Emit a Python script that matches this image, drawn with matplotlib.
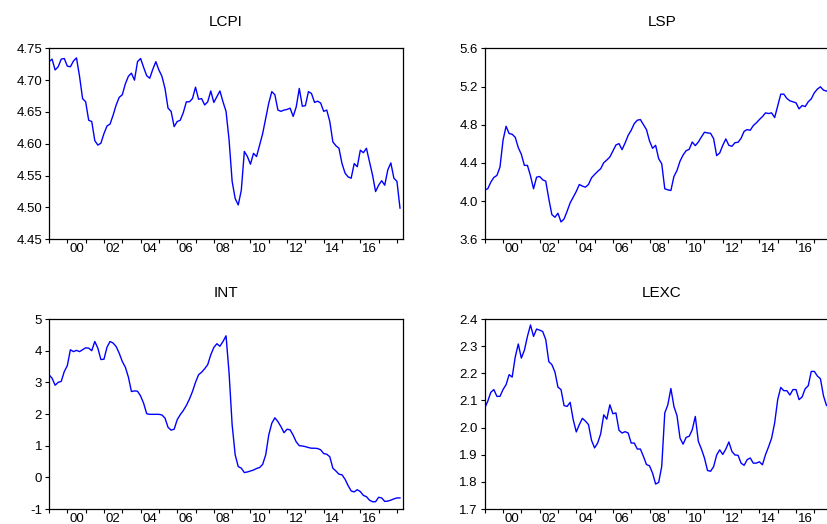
import numpy as np
import matplotlib
matplotlib.use("Agg")
import matplotlib.pyplot as plt

plt.rcParams['font.family'] = ['Liberation Sans', 'DejaVu Sans']

# bimonthly observations, 1999M01 .. 2018M03
start_year = 1999
step_months = 2

lcpi = [4.729, 4.733, 4.716, 4.721, 4.733, 4.734, 4.722, 4.721, 4.730, 4.735,
        4.706, 4.671, 4.666, 4.637, 4.635, 4.605, 4.598, 4.601, 4.616, 4.628,
        4.631, 4.645, 4.661, 4.673, 4.677, 4.694, 4.706, 4.711, 4.700, 4.729,
        4.734, 4.720, 4.707, 4.703, 4.717, 4.729, 4.716, 4.706, 4.687, 4.656,
        4.651, 4.627, 4.635, 4.637, 4.649, 4.666, 4.666, 4.671, 4.689, 4.670,
        4.671, 4.661, 4.666, 4.683, 4.665, 4.674, 4.683, 4.666, 4.651, 4.606,
        4.541, 4.514, 4.504, 4.527, 4.588, 4.580, 4.568, 4.585, 4.580, 4.598,
        4.616, 4.640, 4.664, 4.682, 4.677, 4.653, 4.651, 4.653, 4.654, 4.656,
        4.643, 4.658, 4.687, 4.659, 4.660, 4.682, 4.679, 4.665, 4.667, 4.664,
        4.651, 4.653, 4.635, 4.603, 4.597, 4.593, 4.569, 4.554, 4.548, 4.546,
        4.569, 4.564, 4.590, 4.586, 4.593, 4.572, 4.551, 4.525, 4.535, 4.542,
        4.535, 4.559, 4.570, 4.546, 4.541, 4.499]

lsp = [4.118, 4.129, 4.199, 4.248, 4.269, 4.356, 4.637, 4.784, 4.707, 4.700,
       4.668, 4.560, 4.490, 4.374, 4.374, 4.265, 4.129, 4.251, 4.258, 4.223,
       4.209, 4.024, 3.859, 3.831, 3.873, 3.782, 3.813, 3.894, 3.982, 4.041,
       4.101, 4.174, 4.157, 4.146, 4.174, 4.244, 4.279, 4.311, 4.339, 4.402,
       4.430, 4.462, 4.525, 4.588, 4.602, 4.539, 4.609, 4.689, 4.742, 4.812,
       4.847, 4.854, 4.801, 4.749, 4.630, 4.553, 4.584, 4.444, 4.391, 4.129,
       4.118, 4.111, 4.258, 4.321, 4.419, 4.483, 4.528, 4.542, 4.619, 4.581,
       4.619, 4.672, 4.721, 4.714, 4.710, 4.654, 4.476, 4.504, 4.584, 4.651,
       4.584, 4.574, 4.612, 4.616, 4.658, 4.731, 4.749, 4.742, 4.791, 4.819,
       4.854, 4.885, 4.924, 4.917, 4.924, 4.875, 4.997, 5.120, 5.120, 5.075,
       5.050, 5.040, 5.029, 4.966, 5.001, 4.990, 5.040, 5.071, 5.134, 5.173,
       5.197, 5.162, 5.152, 5.169, 5.180, 5.190]

interest = [3.24, 3.13, 2.91, 3.00, 3.03, 3.34, 3.53, 4.03, 3.97, 4.01,
            3.97, 4.03, 4.09, 4.08, 4.00, 4.29, 4.08, 3.72, 3.73, 4.11,
            4.29, 4.24, 4.13, 3.92, 3.66, 3.48, 3.17, 2.71, 2.73, 2.72,
            2.57, 2.34, 2.01, 1.99, 1.99, 1.99, 1.99, 1.97, 1.87, 1.58,
            1.49, 1.52, 1.82, 1.98, 2.11, 2.27, 2.47, 2.71, 3.00, 3.24,
            3.32, 3.43, 3.56, 3.87, 4.10, 4.22, 4.14, 4.29, 4.47, 3.29,
            1.66, 0.71, 0.34, 0.29, 0.15, 0.17, 0.20, 0.23, 0.28, 0.31,
            0.41, 0.71, 1.34, 1.71, 1.88, 1.76, 1.60, 1.41, 1.52, 1.50,
            1.33, 1.12, 1.00, 0.99, 0.97, 0.94, 0.92, 0.92, 0.91, 0.87,
            0.75, 0.73, 0.65, 0.29, 0.20, 0.10, 0.08, -0.06, -0.26, -0.43,
            -0.46, -0.39, -0.45, -0.57, -0.61, -0.72, -0.77, -0.77, -0.63, -0.65,
            -0.76, -0.75, -0.72, -0.68, -0.65, -0.65]

lexc = [2.072, 2.097, 2.130, 2.140, 2.115, 2.115, 2.140, 2.158, 2.195, 2.186,
        2.260, 2.308, 2.256, 2.285, 2.336, 2.378, 2.336, 2.363, 2.359, 2.354,
        2.324, 2.243, 2.232, 2.205, 2.149, 2.140, 2.081, 2.078, 2.093, 2.029,
        1.984, 2.011, 2.034, 2.024, 2.011, 1.953, 1.925, 1.943, 1.977, 2.047,
        2.031, 2.084, 2.051, 2.054, 1.990, 1.980, 1.985, 1.980, 1.943, 1.943,
        1.921, 1.921, 1.894, 1.864, 1.859, 1.832, 1.792, 1.798, 1.857, 2.054,
        2.084, 2.144, 2.078, 2.044, 1.961, 1.939, 1.964, 1.968, 1.992, 2.041,
        1.949, 1.921, 1.888, 1.842, 1.839, 1.856, 1.899, 1.918, 1.901, 1.921,
        1.947, 1.912, 1.899, 1.898, 1.869, 1.861, 1.882, 1.888, 1.869, 1.869,
        1.874, 1.863, 1.900, 1.929, 1.961, 2.017, 2.103, 2.148, 2.136, 2.136,
        2.120, 2.140, 2.140, 2.103, 2.113, 2.143, 2.154, 2.207, 2.207, 2.190,
        2.180, 2.117, 2.081, 2.084, 2.090, 2.093]

year_labels = ['00', '02', '04', '06', '08', '10', '12', '14', '16']

t = start_year + np.arange(len(lcpi)) * step_months / 12.0


def panel(rect, values, title, yticks, fmt):
    ax = fig.add_axes(rect)
    ax.plot(t, values, color='#0000ff', lw=1.0)
    ax.set_xlim(1999, 2018.33)
    ax.set_ylim(yticks[0], yticks[-1])
    ax.set_yticks(yticks)
    ax.set_yticklabels([fmt.format(v) for v in yticks])
    # year ticks at each January, labels in the middle of even years
    ax.set_xticks(np.arange(1999, 2019))
    ax.set_xticklabels([])
    ax.set_xticks([2000.5 + 2 * i for i in range(len(year_labels))], minor=True)
    ax.set_xticklabels(year_labels, minor=True)
    ax.tick_params(axis='both', which='major', direction='out', length=3,
                   width=0.8, labelsize=9.5, pad=2)
    ax.tick_params(axis='x', which='minor', length=0, labelsize=9.5, pad=3)
    for s in ax.spines.values():
        s.set_linewidth(0.9)
    ax.set_title(title, fontsize=11, pad=16)
    return ax


fig = plt.figure(figsize=(8.28, 5.24), dpi=100)

panel([0.0592, 0.5433, 0.4275, 0.3645], lcpi, 'LCPI',
      [4.45, 4.50, 4.55, 4.60, 4.65, 4.70, 4.75], '{:.2f}')
panel([0.5854, 0.5433, 0.4275, 0.3645], lsp, 'LSP',
      [3.6, 4.0, 4.4, 4.8, 5.2, 5.6], '{:.1f}')
panel([0.0592, 0.0286, 0.4275, 0.3626], interest, 'INT',
      [-1, 0, 1, 2, 3, 4, 5], '{:d}')
panel([0.5854, 0.0286, 0.4275, 0.3626], lexc, 'LEXC',
      [1.7, 1.8, 1.9, 2.0, 2.1, 2.2, 2.3, 2.4], '{:.1f}')

fig.savefig('out.png', dpi=100)
